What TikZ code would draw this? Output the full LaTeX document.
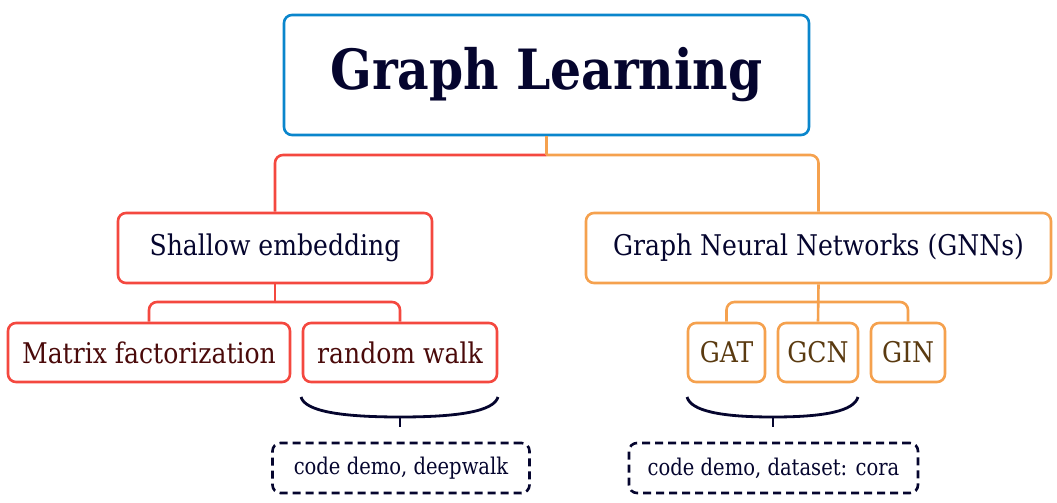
\documentclass[tikz,border=0pt]{standalone}
\usepackage{fontspec}
\setmainfont{DejaVu Serif}[FakeStretch=0.88]
\newfontfamily\demofont{DejaVu Serif}[FakeStretch=0.85]
\usepackage{tikz}
\usetikzlibrary{positioning}

\definecolor{rootblue}{HTML}{0A86CC}
\definecolor{redline}{HTML}{F4483F}
\definecolor{orangeline}{HTML}{F5A14E}
\definecolor{navytext}{HTML}{05052E}
\definecolor{redtext}{HTML}{4A0A0A}
\definecolor{browntext}{HTML}{5A3A10}

\tikzset{
  box/.style={draw, line width=2.6pt, rounded corners=8pt, inner sep=0pt, align=center},
  rootbox/.style={box, draw=rootblue, text=navytext, font=\fontsize{55.5}{64}\selectfont\bfseries},
  redbox/.style={box, draw=redline, font=\fontsize{28.5}{32}\selectfont},
  orangebox/.style={box, draw=orangeline, font=\fontsize{28.5}{32}\selectfont},
  demobox/.style={draw=navytext, line width=2.6pt, dash pattern=on 8pt off 5pt, rounded corners=8pt,
    inner sep=0pt, text=navytext, font=\demofont\fontsize{23}{26}\selectfont},
  redlink/.style={draw=redline, line width=2.6pt, rounded corners=8pt},
  orangelink/.style={draw=orangeline, line width=2.6pt, rounded corners=8pt},
  bracket/.style={draw=navytext, line width=2.8pt},
}

\begin{document}
\begin{tikzpicture}[x=1pt,y=-1pt]
\useasboundingbox (0,0) rectangle (1057,503);

% top level
\node[rootbox, minimum width=525pt, minimum height=120pt] (root) at (546.5,75) {Graph Learning};

% second level
\node[redbox, text=navytext, minimum width=314pt, minimum height=70pt] (shallow) at (275,248) {Shallow embedding};
\node[orangebox, text=navytext, minimum width=465pt, minimum height=70pt] (gnn) at (818.5,248) {Graph Neural Networks (GNNs)};

% leaves
\node[redbox, text=redtext, minimum width=282pt, minimum height=59pt] (mf) at (149,352.5) {Matrix factorization};
\node[redbox, text=redtext, minimum width=194pt, minimum height=59pt] (rw) at (400,352.5) {random walk};
\node[orangebox, text=browntext, minimum width=77pt, minimum height=59pt] (gat) at (726.5,352.5) {GAT};
\node[orangebox, text=browntext, minimum width=80pt, minimum height=59pt] (gcn) at (818,352.5) {GCN};
\node[orangebox, text=browntext, minimum width=74pt, minimum height=59pt] (gin) at (908,352.5) {GIN};

% demos
\node[demobox, minimum width=257pt, minimum height=50pt] (demoleft) at (401,468) {code demo, deepwalk};
\node[demobox, minimum width=289pt, minimum height=50pt] (demoright) at (773.5,468) {code demo, dataset: cora};

% links
\coordinate (split) at (546.5,155);
\draw[redlink] (split) -| (shallow.north);
\draw[orangelink] (split) -| (gnn.north);
\draw[orangelink] (root.south) -- (split);

\coordinate (splitsh) at (275,302);
\draw[redlink] (shallow.south) -- (splitsh);
\draw[redlink] (splitsh) -| (mf.north);
\draw[redlink] (splitsh) -| (rw.north);

\coordinate (splitgnn) at (818,302);
\draw[orangelink] (gnn.south) -- (gcn.north);
\draw[orangelink] (splitgnn) -| (gat.north);
\draw[orangelink] (splitgnn) -| (gin.north);

% brackets
\coordinate (tipleft) at (400,427);
\draw[bracket] (301,397) .. controls (305,411) and (340,417) .. (400,417)
  .. controls (460,417) and (494,411) .. (498,397);
\draw[bracket] (400,417) -- (tipleft);
\coordinate (tipright) at (773,427);
\draw[bracket] (687,397) .. controls (691,411) and (721,417) .. (773,417)
  .. controls (825,417) and (854,411) .. (858,397);
\draw[bracket] (773,417) -- (tipright);
\end{tikzpicture}
\end{document}
